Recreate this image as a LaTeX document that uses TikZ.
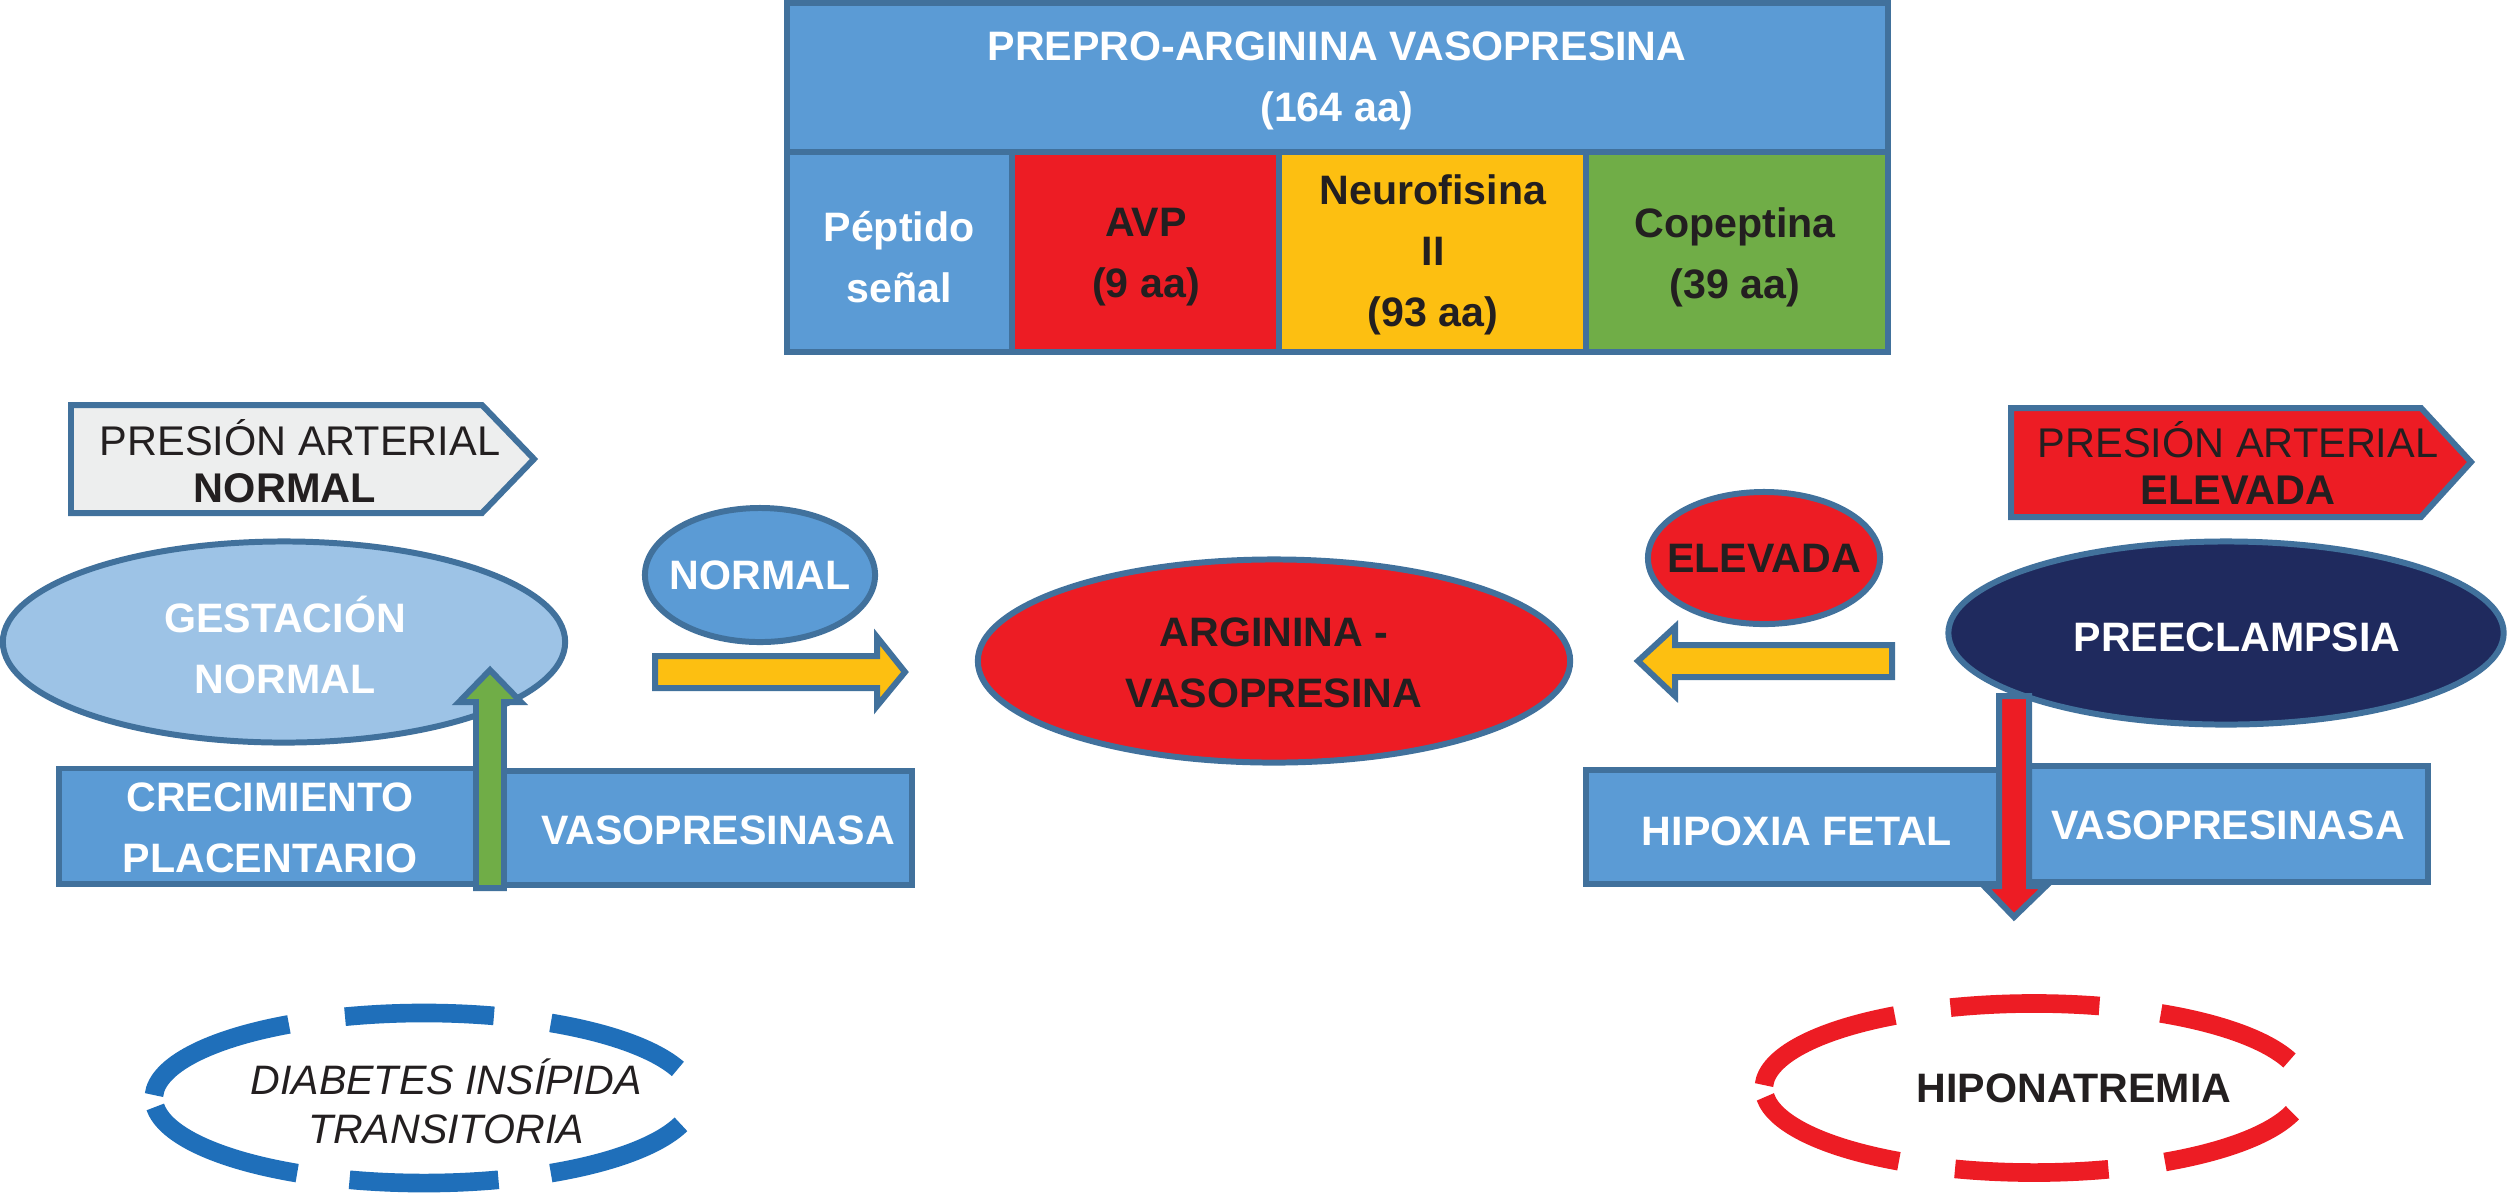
\documentclass[tikz,border=0pt]{standalone}
\usepackage{fontspec}
\setmainfont{Liberation Sans}
\usetikzlibrary{shapes.geometric}
\definecolor{bord}{HTML}{41719C}
\definecolor{boxblue}{HTML}{5B9BD5}
\definecolor{lightblue}{HTML}{9DC3E6}
\definecolor{myred}{HTML}{ED1C24}
\definecolor{myyellow}{HTML}{FDBF11}
\definecolor{mygreen}{HTML}{70AD47}
\definecolor{navy}{HTML}{1F2A5E}
\definecolor{lgray}{HTML}{EDEEEE}
\definecolor{dblue}{HTML}{1F6FBA}
\definecolor{txt}{HTML}{231F20}
\begin{document}
\begin{tikzpicture}[x=0.01cm,y=-0.01cm,
  frame/.style={draw=bord, line width=1.7pt},
  box/.style={frame, rectangle, inner sep=0pt},
  oval/.style={frame, ellipse, inner sep=0pt},
  wt/.style={font=\bfseries\fontsize{11.7}{17.3}\selectfont, text=white, align=center, inner sep=0pt},
  bk/.style={font=\bfseries\fontsize{11.7}{17.3}\selectfont, text=txt, align=center, inner sep=0pt},
  pt/.style={font=\fontsize{11.8}{13.3}\selectfont, text=txt, align=center, inner sep=0pt},
  blockarrow/.style={frame, line join=miter},
  dashring/.style={line width=5.3pt, line cap=butt}]
\useasboundingbox[fill=white] (0,0) rectangle (2507,1196);

% --- top precursor box ---
\node[box, fill=boxblue, minimum width=11.01cm, minimum height=1.49cm] (head) at (1337.5,77.5) {};
\node[wt] (headt) at (1337,81) {PREPRO-ARGININA VASOPRESINA\\(164 aa)};
\node[box, fill=boxblue, minimum width=2.25cm, minimum height=2cm] (pep) at (899.5,252) {};
\node[box, fill=myred, minimum width=2.67cm, minimum height=2cm] (avp) at (1145.5,252) {};
\node[box, fill=myyellow, minimum width=3.07cm, minimum height=2cm] (neu) at (1432.5,252) {};
\node[box, fill=mygreen, minimum width=3.02cm, minimum height=2cm] (cop) at (1737,252) {};
\node[wt] (pept) at (899,257) {Péptido\\señal};
\node[bk] (avpt) at (1146,257) {AVP\\(9 aa)};
\node[bk] (neut) at (1433,255) {Neurofisina\\II\\(93 aa)};
\node[bk] (copt) at (1735,257) {Copeptina\\(39 aa)};

% --- pressure tags ---
\draw[frame, fill=lgray] (71,405) -- (482,405) -- (534,459) -- (482,513) -- (71,513) -- cycle;
\node[pt] (pan) at (300,461) {PRESIÓN ARTERIAL\\\textbf{NORMAL}\hspace*{0.3cm}};
\draw[frame, fill=myred] (2011,408) -- (2421,408) -- (2471,462) -- (2421,517) -- (2011,517) -- cycle;
\node[pt] (pae) at (2238,463) {PRESIÓN ARTERIAL\\\textbf{ELEVADA}};

% --- ellipses ---
\node[oval, fill=lightblue, minimum width=5.62cm, minimum height=2.01cm] (gest) at (284,642) {};
\node[wt] (gestt) at (285,645) {GESTACIÓN\\NORMAL};
\node[oval, fill=boxblue, minimum width=2.3cm, minimum height=1.34cm] (normc) at (760,575) {};
\node[wt] (normct) at (760,575) {NORMAL};
\node[oval, fill=myred, minimum width=5.92cm, minimum height=2.03cm] (argi) at (1274,661) {};
\node[bk] (argit) at (1274,663) {ARGININA -\\VASOPRESINA};
\node[oval, fill=myred, minimum width=2.32cm, minimum height=1.32cm] (elev) at (1764,558) {};
\node[bk] (elevt) at (1764,558) {ELEVADA};
\node[oval, fill=navy, minimum width=5.55cm, minimum height=1.83cm] (pree) at (2226,633) {};
\node[wt] (preet) at (2237,637) {PREECLAMPSIA};

% --- yellow arrows ---
\draw[blockarrow, fill=myyellow] (655,656) -- (877,656) -- (877,637) -- (905,672) -- (877,706) -- (877,688) -- (655,688) -- cycle;
\draw[blockarrow, fill=myyellow] (1892,645) -- (1675,645) -- (1675,627) -- (1638,661) -- (1675,696) -- (1675,677) -- (1892,677) -- cycle;

% --- lower boxes ---
\node[box, fill=boxblue, minimum width=4.19cm, minimum height=1.15cm] (crec) at (268.5,826) {};
\node[wt] (crect) at (270,828) {CRECIMIENTO\\PLACENTARIO};
\node[box, fill=boxblue, minimum width=4.12cm, minimum height=1.14cm] (vasl) at (706,828) {};
\node[wt] (vaslt) at (718,830) {VASOPRESINASA};
\node[box, fill=boxblue, minimum width=4.14cm, minimum height=1.14cm] (hipo) at (1793,827) {};
\node[wt] (hipot) at (1797,831) {HIPOXIA FETAL};
\node[box, fill=boxblue, minimum width=4.02cm, minimum height=1.16cm] (vasr) at (2227,824) {};
\node[wt] (vasrt) at (2228,825) {VASOPRESINASA};

% --- vertical arrows ---
\draw[blockarrow, fill=mygreen] (476,888) -- (476,702) -- (459,702) -- (490,670) -- (521,702) -- (504,702) -- (504,888) -- cycle;
\draw[blockarrow, fill=myred] (1999,696) -- (1999,886) -- (1984,886) -- (2014,917) -- (2046,886) -- (2029,886) -- (2029,696) -- cycle;

% --- dashed outcome ellipses ---
\coordinate (dic) at (424,1098);
\foreach \a/\b in {20/62,75/107,120/178,186/242,254/286,298/342}
  \draw[dashring, draw=dblue] ([shift={(\a:2.7cm and 0.85cm)}]dic) arc[start angle=\a, end angle=\b, x radius=2.7cm, y radius=0.85cm];
\node[pt, font=\itshape\fontsize{11.7}{14}\selectfont] (diat) at (446,1101) {DIABETES INSÍPIDA\\TRANSITORIA};
\coordinate (hic) at (2034,1088);
\foreach \a/\b in {19/62,76/108,121/178,186/240,253/286,299/343}
  \draw[dashring, draw=myred] ([shift={(\a:2.7cm and 0.845cm)}]hic) arc[start angle=\a, end angle=\b, x radius=2.7cm, y radius=0.845cm];
\node[bk] (hipnt) at (2074,1088) {HIPONATREMIA};
\end{tikzpicture}
\end{document}
